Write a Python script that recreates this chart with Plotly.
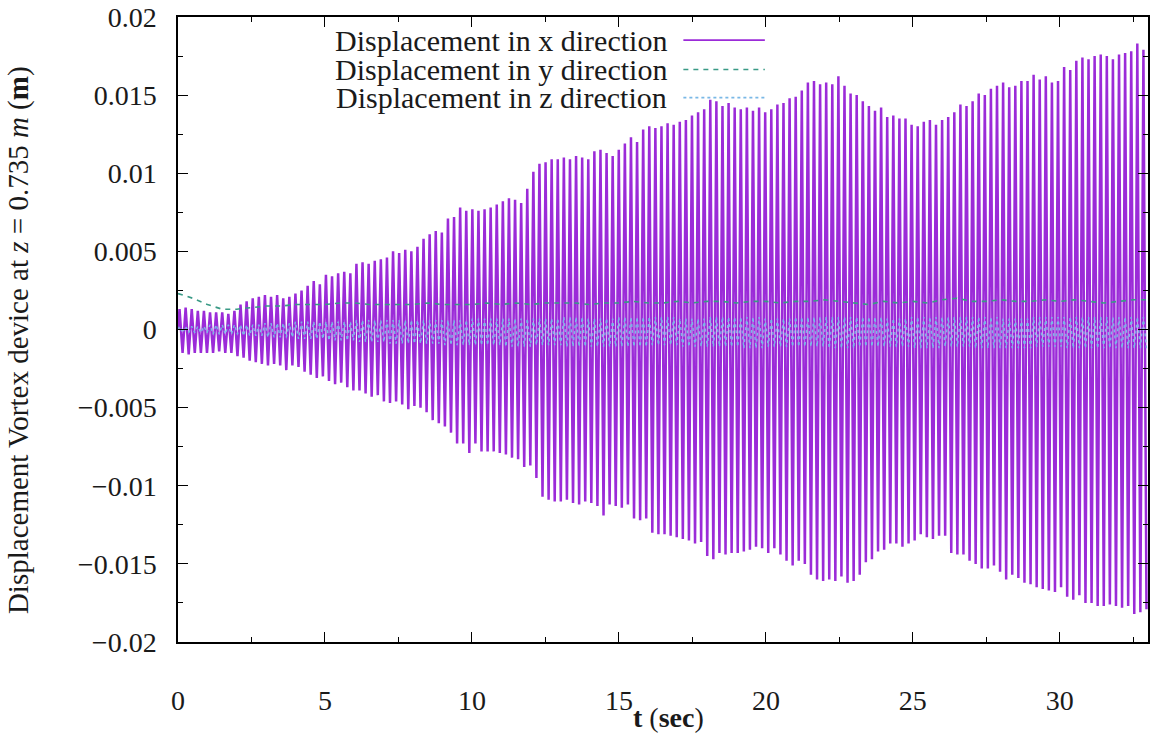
import numpy as np
import plotly.graph_objects as go

# ---------------- data ----------------
T_END = 33.0
# number of oscillation cycles of the x-displacement found in each second (0-1 s, 1-2 s, ...)
cycles_per_second = [5, 5, 4, 5, 5, 5, 5, 5, 4, 5, 5, 5, 5, 4, 5, 5, 5, 5, 5, 4,
                     5, 5, 5, 5, 4, 5, 5, 5, 5, 5, 4, 5, 5]

# x displacement: positive peak of each cycle (mm)
x_peak_max_mm = [
    1.3, 1.4, 1.3, 1.2, 1.2,
    1.1, 1.1, 1.1, 1.0, 1.2,
    1.6, 1.8, 2.0, 2.1,
    2.2, 2.1, 2.2, 2.0, 2.1,
    2.3, 2.5, 2.8, 3.1, 2.9,
    3.5, 3.4, 3.6, 3.7, 3.6,
    4.2, 4.3, 4.2, 4.4, 4.5,
    4.6, 5.0, 4.9, 5.1, 5.0,
    5.3, 5.8, 6.1, 6.3,
    6.2, 7.1, 7.2, 7.8, 7.6,
    7.7, 7.6, 7.7, 7.8, 8.0,
    8.2, 8.4, 8.3, 8.1, 9.0,
    10.1, 10.6, 10.7, 10.9, 10.9,
    11.0, 10.9, 11.1, 11.0,
    10.9, 11.4, 11.5, 11.3, 11.1,
    11.5, 11.9, 12.3, 12.0, 12.8,
    13.0, 12.9, 13.0, 13.2, 13.1,
    13.3, 13.4, 13.7, 13.9, 14.1,
    14.7, 14.6, 14.3, 14.5, 14.2,
    14.1, 14.2, 14.0, 14.2,
    13.9, 14.1, 14.4, 14.5, 14.8,
    14.9, 15.3, 15.8, 15.9, 15.7,
    15.8, 15.7, 16.2, 15.6, 15.1,
    15.0, 14.6, 14.3, 14.0, 14.2,
    13.6, 13.7, 13.5, 13.5,
    13.1, 13.0, 13.3, 13.4, 13.1,
    13.4, 13.6, 13.9, 14.4, 14.3,
    14.6, 15.1, 15.0, 15.4, 15.6,
    15.8, 15.5, 15.6, 15.9, 15.9,
    16.3, 16.0, 16.2, 15.8, 15.9,
    16.8, 16.6, 17.2, 17.4,
    17.3, 17.5, 17.6, 17.5, 17.3,
    17.6, 17.7, 17.8, 18.3, 17.9,
]
# x displacement: negative peak of each cycle (mm)
x_peak_min_mm = [
    -1.5, -1.6, -1.5, -1.5, -1.5,
    -1.5, -1.4, -1.5, -1.5, -1.7,
    -1.8, -2.0, -2.1, -2.2,
    -2.3, -2.2, -2.3, -2.6, -2.3,
    -2.4, -2.7, -2.9, -3.1, -3.0,
    -3.3, -3.5, -3.4, -3.7, -3.9,
    -3.9, -4.1, -4.3, -4.2, -4.6,
    -4.7, -4.6, -4.8, -5.1, -4.9,
    -5.0, -5.3, -5.8, -6.0,
    -6.2, -6.6, -7.3, -7.3, -7.9,
    -7.3, -7.8, -7.8, -7.8, -7.9,
    -8.0, -8.2, -8.3, -8.8, -8.7,
    -9.5, -10.7, -10.9, -11.0, -11.0,
    -10.9, -11.1, -11.2, -11.0,
    -11.1, -11.3, -11.9, -11.2, -11.3,
    -11.4, -11.2, -12.1, -12.2, -12.1,
    -13.0, -13.1, -13.1, -13.2, -13.3,
    -13.4, -13.5, -13.7, -13.6, -14.5,
    -14.7, -14.3, -14.4, -14.3, -14.3,
    -14.2, -14.1, -13.9, -14.0,
    -14.3, -14.0, -14.4, -14.8, -15.1,
    -14.8, -15.0, -15.7, -16.0, -16.1,
    -16.0, -16.1, -15.8, -16.2, -16.1,
    -15.7, -14.9, -14.7, -14.2, -14.1,
    -13.7, -13.7, -13.9, -13.7,
    -13.5, -13.1, -13.3, -13.4, -13.2,
    -13.2, -14.3, -14.4, -14.4, -14.8,
    -15.0, -15.3, -15.3, -15.1, -15.5,
    -16.0, -15.7, -15.9, -16.2, -16.3,
    -16.5, -16.6, -16.7, -16.8, -16.5,
    -17.1, -17.3, -17.0, -17.5,
    -17.5, -17.7, -17.7, -17.6, -17.7,
    -17.8, -17.7, -18.2, -18.1, -17.9,
]

# y displacement (mm), read every 0.5 s
y_time = [i * 0.5 for i in range(67)]
y_disp_mm = [2.3, 2.0, 1.6, 1.3, 1.3, 1.4, 1.5, 1.5, 1.6, 1.6,
             1.6, 1.7, 1.7, 1.6, 1.6, 1.6, 1.6, 1.7, 1.6, 1.6,
             1.6, 1.7, 1.6, 1.7, 1.6, 1.7, 1.7, 1.7, 1.6, 1.7,
             1.7, 1.8, 1.7, 1.7, 1.8, 1.7, 1.8, 1.8, 1.7, 1.8,
             1.8, 1.7, 1.8, 1.8, 1.9, 1.8, 1.7, 1.6, 1.8, 1.7,
             1.8, 1.7, 1.9, 2.0, 1.8, 1.8, 1.9, 1.8, 1.8, 1.9,
             1.8, 1.9, 1.8, 1.7, 1.8, 1.9, 1.9]

# z displacement: positive / negative swing in each second (mm)
z_peak_max_mm = [0.2, 0.3, 0.3, 0.4, 0.5, 0.5, 0.6, 0.6, 0.6, 0.6,
                 0.7, 0.7, 0.7, 0.8, 0.7, 0.8, 0.8, 0.7, 0.8, 0.8,
                 0.7, 0.8, 0.8, 0.8, 0.7, 0.8, 0.8, 0.8, 0.7, 0.8,
                 0.8, 0.8, 0.8]
z_peak_min_mm = [-0.2, -0.3, -0.4, -0.5, -0.6, -0.7, -0.8, -0.9, -0.9, -1.0,
                 -1.0, -1.1, -1.0, -1.1, -1.1, -1.1, -1.0, -1.1, -1.1, -1.2,
                 -1.1, -1.1, -1.2, -1.1, -1.1, -1.2, -1.1, -1.2, -1.2, -1.1,
                 -1.2, -1.2, -1.2]

y_tick_vals = [0.02, 0.015, 0.01, 0.005, 0, -0.005, -0.01, -0.015, -0.02]
y_tick_text = ["0.02", "0.015", "0.01", "0.005", "0", "\u22120.005", "\u22120.01", "\u22120.015", "\u22120.02"]
x_tick_vals = [0, 5, 10, 15, 20, 25, 30]

series_names = ["Displacement in x direction", "Displacement in y direction", "Displacement in z direction"]
series_colors = ["#9b2bd8", "#3a9a86", "#7ab8e6"]
series_dash = ["solid", "5px,5px", "dot"]

# ---------------- build traces ----------------
n_cycles = len(x_peak_max_mm)
period = T_END / n_cycles
cycle_second = np.repeat(np.arange(len(cycles_per_second)), cycles_per_second)

tx, vx, vz = [0.0], [0.0], [0.0]
for k in range(n_cycles):
    tx += [(k + 0.25) * period, (k + 0.75) * period]
    vx += [x_peak_max_mm[k] * 1e-3, x_peak_min_mm[k] * 1e-3]
    s = cycle_second[k]
    vz += [z_peak_max_mm[s] * 1e-3, z_peak_min_mm[s] * 1e-3]

fig = go.Figure()
fig.add_trace(go.Scatter(x=tx, y=vx, mode="lines", name=series_names[0],
                         line=dict(color=series_colors[0], width=2.5)))
fig.add_trace(go.Scatter(x=y_time, y=np.array(y_disp_mm) * 1e-3, mode="lines", name=series_names[1],
                         line=dict(color=series_colors[1], width=1.6, dash=series_dash[1])))
fig.add_trace(go.Scatter(x=tx, y=vz, mode="lines", name=series_names[2],
                         line=dict(color=series_colors[2], width=1.4, dash=series_dash[2])))

FONT = "Liberation Serif"
TXT = "#1a1a1a"

# gnuplot-style key (text right-aligned, sample on the right)
key_rows = [0.963, 0.916, 0.871]
for name, col, dash, yy in zip(series_names, series_colors, series_dash, key_rows):
    fig.add_annotation(xref="paper", yref="paper", x=0.505, y=yy, text=name,
                       showarrow=False, xanchor="right", yanchor="middle", borderpad=0,
                       font=dict(family=FONT, size=30, color=TXT))
    fig.add_shape(type="line", xref="paper", yref="paper", x0=0.521, x1=0.605, y0=yy, y1=yy,
                  line=dict(color=col, width=1.6, dash=dash))

# axis titles
fig.add_annotation(xref="paper", yref="paper", x=0.506, y=-0.12, text="<b>t</b> (<b>sec</b>)",
                   showarrow=False, xanchor="center", yanchor="middle", borderpad=0,
                   font=dict(family=FONT, size=28, color=TXT))
fig.add_annotation(xref="paper", yref="paper", x=-0.165, y=0.483,
                   text="Displacement Vortex device at <i>z</i> = 0.735 <i>m</i> (<b>m</b>)",
                   showarrow=False, xanchor="center", yanchor="middle", textangle=-90,
                   font=dict(family=FONT, size=29, color=TXT))

axis_common = dict(showline=True, mirror="ticks", linecolor="black", linewidth=1.5,
                   ticks="inside", ticklen=10, tickwidth=1.2, tickcolor="black",
                   showgrid=False, zeroline=False, automargin=False, ticklabeloverflow="allow",
                   tickfont=dict(family=FONT, size=28, color=TXT))

fig.update_xaxes(range=[0, T_END], tickvals=x_tick_vals, ticklabelstandoff=33,
                 minor=dict(ticks="inside", dtick=2.5, ticklen=5, tickcolor="black", tickwidth=1.2),
                 **axis_common)
fig.update_yaxes(range=[-0.02, 0.02], tickvals=y_tick_vals, ticktext=y_tick_text, ticklabelstandoff=14,
                 minor=dict(ticks="inside", dtick=0.0025, ticklen=5, tickcolor="black", tickwidth=1.2),
                 **axis_common)

fig.update_layout(width=1158, height=735, showlegend=False,
                  plot_bgcolor="white", paper_bgcolor="white",
                  margin=dict(l=178, r=10, t=17, b=93))

# remove the browser's default 8 px body margin so the figure fills the window exactly
fig.write_html("out.html", config={"displayModeBar": False},
               post_script="document.body.style.margin='0px';")
